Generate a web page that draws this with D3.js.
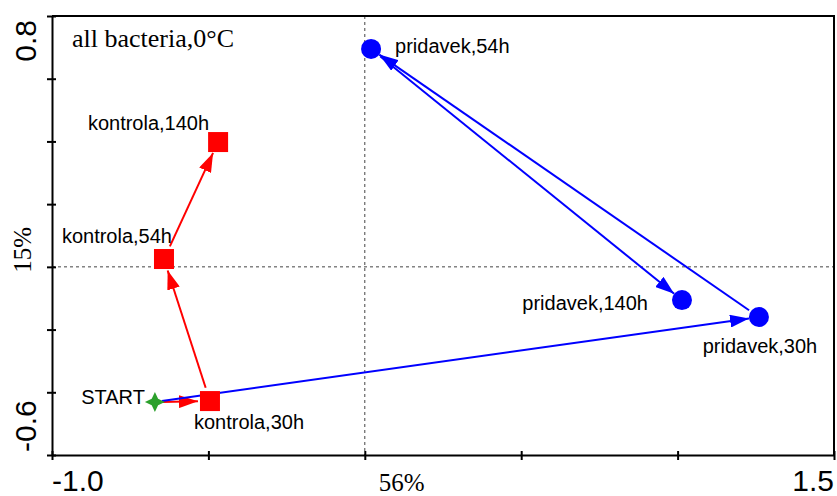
<!DOCTYPE html>
<html>
<head>
<meta charset="utf-8">
<script src="https://cdn.jsdelivr.net/npm/d3@7"></script>
<style>
  html, body { margin: 0; padding: 0; background: #fff; }
  svg { display: block; }
</style>
</head>
<body>
<svg id="chart" width="837" height="496"></svg>
<script>
// Ordination scores (axis 1 = 56 %, axis 2 = 15 %)
const pointNames = ["START", "kontrola,30h", "kontrola,54h", "kontrola,140h",
                    "pridavek,30h", "pridavek,54h", "pridavek,140h"];
const pointGroup = ["start", "kontrola", "kontrola", "kontrola",
                    "pridavek", "pridavek", "pridavek"];
const axis1 = [-0.671, -0.495, -0.642, -0.469, 1.260, 0.020, 1.014];
const axis2 = [-0.431, -0.428, 0.025, 0.398, -0.160, 0.695, -0.106];

// Time courses drawn as arrows
const kontrolaPath = ["START", "kontrola,30h", "kontrola,54h", "kontrola,140h"];
const pridavekPath = ["START", "pridavek,30h", "pridavek,54h", "pridavek,140h"];

const xDomain = [-1.0, 1.5];
const yDomain = [-0.6, 0.8];
const xTicks = [-1.0, -0.5, 0, 0.5, 1.0, 1.5];
const yTicks = [-0.6, -0.4, -0.2, 0, 0.2, 0.4, 0.6, 0.8];
const xAxisTitle = "56%";
const yAxisTitle = "15%";
const chartTitle = "all bacteria,0\u00B0C";

// Label placement relative to each marker (pixels)
const labelPlacement = {
  "START":         { dx: -10, dy: 2,  anchor: "end" },
  "kontrola,30h":  { dx: -16, dy: 28, anchor: "start" },
  "kontrola,54h":  { dx: 8,   dy: -16, anchor: "end" },
  "kontrola,140h": { dx: -9,  dy: -12, anchor: "end" },
  "pridavek,30h":  { dx: 1,   dy: 36, anchor: "middle" },
  "pridavek,54h":  { dx: 24,  dy: 4,  anchor: "start" },
  "pridavek,140h": { dx: -34, dy: 10, anchor: "end" }
};

const colors = { start: "#2ca02c", kontrola: "#ff0000", pridavek: "#0000ff" };

// Axis numbers use a plain hyphen as the minus sign
const fmt = d3.formatLocale({ decimal: ".", thousands: ",", grouping: [3], currency: ["", ""], minus: "-" }).format(".1f");

const svg = d3.select("#chart");
const x = d3.scaleLinear().domain(xDomain).range([52, 834]);
const y = d3.scaleLinear().domain(yDomain).range([455, 16]);

const points = pointNames.map((n, i) => ({ name: n, group: pointGroup[i], x: axis1[i], y: axis2[i] }));
const byName = new Map(points.map(p => [p.name, p]));

// Reference lines through the origin
svg.append("line")
  .attr("x1", x(0)).attr("x2", x(0)).attr("y1", y(yDomain[1])).attr("y2", y(yDomain[0]))
  .attr("stroke", "#444").attr("stroke-width", 1).attr("stroke-dasharray", "3,3");
svg.append("line")
  .attr("x1", x(xDomain[0])).attr("x2", x(xDomain[1])).attr("y1", y(0)).attr("y2", y(0))
  .attr("stroke", "#444").attr("stroke-width", 1).attr("stroke-dasharray", "3,3");

// Axes
const gx = svg.append("g").attr("transform", `translate(0,${y(yDomain[0])})`)
  .call(d3.axisBottom(x).tickValues(xTicks).tickFormat("").tickSizeOuter(0));
const gy = svg.append("g").attr("transform", `translate(${x(xDomain[0])},0)`)
  .call(d3.axisLeft(y).tickValues(yTicks).tickFormat("").tickSizeOuter(0));
[gx, gy].forEach(g => {
  g.select(".domain").attr("stroke", "#000").attr("stroke-width", 2);
  g.selectAll(".tick line").attr("stroke", "#000").attr("stroke-width", 2);
});
gx.selectAll(".tick line").attr("y1", -4).attr("y2", 5);
gy.selectAll(".tick line").attr("x1", -5).attr("x2", 4);

// Top and right frame
svg.append("path")
  .attr("d", `M${x(xDomain[0])},${y(yDomain[1])}H${x(xDomain[1])}V${y(yDomain[0])}`)
  .attr("fill", "none").attr("stroke", "#000").attr("stroke-width", 2);

// End-of-axis values
svg.append("text").attr("x", x(xDomain[0])).attr("y", 491)
  .attr("font-family", "Liberation Sans, Arial, sans-serif").attr("font-size", 30)
  .attr("text-anchor", "start").text(fmt(xDomain[0]));
svg.append("text").attr("x", x(xDomain[1])).attr("y", 491)
  .attr("font-family", "Liberation Sans, Arial, sans-serif").attr("font-size", 30)
  .attr("text-anchor", "end").text(fmt(xDomain[1]));
svg.append("text")
  .attr("transform", `translate(36,${y(yDomain[1]) + 4}) rotate(-90)`)
  .attr("font-family", "Liberation Sans, Arial, sans-serif").attr("font-size", 30)
  .attr("text-anchor", "end").text(fmt(yDomain[1]));
svg.append("text")
  .attr("transform", `translate(36,${y(yDomain[0]) - 3}) rotate(-90)`)
  .attr("font-family", "Liberation Sans, Arial, sans-serif").attr("font-size", 30)
  .attr("text-anchor", "start").text(fmt(yDomain[0]));

// Axis titles and chart title
svg.append("text").attr("x", x(0) + 14).attr("y", 491)
  .attr("font-family", "Liberation Serif, Times New Roman, serif").attr("font-size", 25)
  .text(xAxisTitle);
svg.append("text")
  .attr("transform", `translate(31,${y(0) + 6}) rotate(-90)`)
  .attr("font-family", "Liberation Serif, Times New Roman, serif").attr("font-size", 25)
  .attr("text-anchor", "start").text(yAxisTitle);
svg.append("text").attr("x", 72).attr("y", 47)
  .attr("font-family", "Liberation Serif, Times New Roman, serif").attr("font-size", 26)
  .text(chartTitle);

// Arrowheads
const defs = svg.append("defs");
["kontrola", "pridavek"].forEach(k => {
  defs.append("marker")
    .attr("id", "head-" + k)
    .attr("markerUnits", "userSpaceOnUse")
    .attr("viewBox", "0 0 19 13")
    .attr("refX", 19).attr("refY", 6.5)
    .attr("markerWidth", 19).attr("markerHeight", 13)
    .attr("orient", "auto")
    .append("path").attr("d", "M0,0L19,6.5L0,13Z").attr("fill", colors[k]);
});

// Gap between marker centre and arrow ends
const startGap = { start: 7, kontrola: 14, pridavek: 12 };
const endGap = { kontrola: 12, pridavek: 10 };

function segments(path) {
  const segs = [];
  for (let i = 0; i < path.length - 1; i++) segs.push([byName.get(path[i]), byName.get(path[i + 1])]);
  return segs;
}
[["kontrola", kontrolaPath], ["pridavek", pridavekPath]].forEach(([k, path]) => {
  svg.append("g").selectAll("line").data(segments(path)).join("line")
    .each(function([a, b]) {
      const x0 = x(a.x), y0 = y(a.y), x1 = x(b.x), y1 = y(b.y);
      const len = Math.hypot(x1 - x0, y1 - y0);
      const ux = (x1 - x0) / len, uy = (y1 - y0) / len;
      const s = startGap[a.group], e = endGap[b.group];
      d3.select(this)
        .attr("x1", x0 + ux * s).attr("y1", y0 + uy * s)
        .attr("x2", x1 - ux * e).attr("y2", y1 - uy * e);
    })
    .attr("stroke", colors[k]).attr("stroke-width", 2)
    .attr("marker-end", `url(#head-${k})`);
});

// Markers
const g = svg.append("g");
g.selectAll("rect").data(points.filter(p => p.group === "kontrola")).join("rect")
  .attr("x", d => x(d.x) - 10).attr("y", d => y(d.y) - 10)
  .attr("width", 20).attr("height", 20).attr("fill", colors.kontrola);
g.selectAll("circle").data(points.filter(p => p.group === "pridavek")).join("circle")
  .attr("cx", d => x(d.x)).attr("cy", d => y(d.y)).attr("r", 10).attr("fill", colors.pridavek);
const star4 = (r, ri) => {
  const pts = [];
  for (let i = 0; i < 8; i++) {
    const a = -Math.PI / 2 + i * Math.PI / 4;
    const rr = i % 2 === 0 ? r : ri;
    pts.push([rr * Math.cos(a), rr * Math.sin(a)]);
  }
  return "M" + pts.map(p => p.join(",")).join("L") + "Z";
};
g.selectAll("path.start").data(points.filter(p => p.group === "start")).join("path")
  .attr("class", "start")
  .attr("transform", d => `translate(${x(d.x)},${y(d.y)})`)
  .attr("d", star4(10, 4.5)).attr("fill", colors.start);

// Point labels
svg.append("g").selectAll("text").data(points).join("text")
  .attr("x", d => x(d.x) + labelPlacement[d.name].dx)
  .attr("y", d => y(d.y) + labelPlacement[d.name].dy)
  .attr("text-anchor", d => labelPlacement[d.name].anchor)
  .attr("font-family", "Liberation Sans, Arial, sans-serif")
  .attr("font-size", 20)
  .attr("fill", "#000")
  .text(d => d.name);
</script>
</body>
</html>
